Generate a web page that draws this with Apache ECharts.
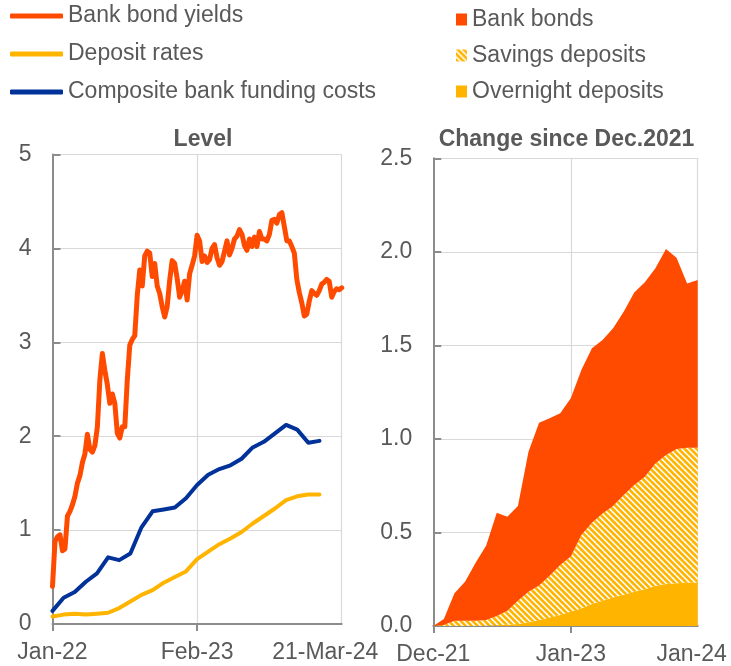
<!DOCTYPE html>
<html><head><meta charset="utf-8">
<script src="https://cdn.jsdelivr.net/npm/echarts@6/dist/echarts.min.js"></script>
<style>html,body{margin:0;padding:0;background:#fff}#c{width:731px;height:666px}</style>
</head><body><div id="c"></div>
<script>
// ---------- DATA ----------
const levelTickLabels = ['Jan-22', 'Feb-23', '21-Mar-24'];
const levelTickIndex = [0, 58, 116];

// weekly bank bond yields (%), from 3 Jan 2022 to 21 Mar 2024
const bankBondYields = [
  0.40, 0.88, 0.93, 0.95, 0.78, 0.80, 1.15, 1.20, 1.27, 1.36,
  1.50, 1.58, 1.72, 1.81, 2.02, 1.86, 1.83, 1.90, 2.10, 2.60,
  2.88, 2.70, 2.55, 2.35, 2.45, 2.35, 2.03, 1.98, 2.10, 2.10,
  2.60, 2.97, 3.03, 3.07, 3.50, 3.77, 3.60, 3.92, 3.97, 3.95,
  3.70, 3.84, 3.60, 3.52, 3.38, 3.27, 3.38, 3.66, 3.87, 3.84,
  3.68, 3.48, 3.55, 3.65, 3.45, 3.73, 3.82, 3.92, 4.14, 4.08,
  3.86, 3.92, 3.85, 3.88, 4.00, 4.04, 3.90, 3.82, 3.86, 3.97,
  4.08, 3.93, 4.00, 4.10, 4.13, 4.20, 4.15, 4.03, 3.98, 4.10,
  4.02, 4.12, 4.02, 4.18, 4.10, 4.10, 4.08, 4.15, 4.30, 4.31,
  4.27, 4.36, 4.38, 4.23, 4.08, 4.08, 4.02, 3.95, 3.67, 3.53,
  3.42, 3.28, 3.30, 3.44, 3.55, 3.52, 3.50, 3.55, 3.62, 3.64,
  3.67, 3.65, 3.48, 3.54, 3.57, 3.56, 3.58
];

// monthly series Jan-22 .. Jan-24 (axis runs to Mar-24)
const depositRates = [
  0.08, 0.10, 0.11, 0.10, 0.11, 0.12, 0.17, 0.24, 0.31, 0.36,
  0.44, 0.50, 0.56, 0.69, 0.77, 0.85, 0.91, 0.98, 1.07, 1.15,
  1.23, 1.32, 1.36, 1.38, 1.38
];
const compositeCosts = [
  0.14, 0.28, 0.34, 0.45, 0.54, 0.71, 0.68, 0.75, 1.03, 1.20,
  1.22, 1.24, 1.34, 1.48, 1.59, 1.65, 1.69, 1.76, 1.88, 1.94,
  2.03, 2.12, 2.07, 1.93, 1.95
];

const changeTickLabels = ['Dec-21', 'Jan-23', 'Jan-24'];
const changeTickIndex = [0, 13, 25];
// change since Dec-2021 (pp), monthly Dec-21 .. Jan-24
const overnightDeposits = [
  0, 0, 0, 0, 0, 0.002, 0.004, 0.007, 0.011, 0.020,
  0.032, 0.046, 0.059, 0.077, 0.094, 0.118, 0.135, 0.153, 0.167, 0.183,
  0.196, 0.214, 0.224, 0.228, 0.233, 0.233
];
const savingsDeposits = [
  0, 0.005, 0.028, 0.028, 0.028, 0.030, 0.049, 0.075, 0.124, 0.163,
  0.184, 0.223, 0.267, 0.294, 0.392, 0.434, 0.467, 0.488, 0.533, 0.571,
  0.602, 0.655, 0.690, 0.718, 0.720, 0.720
];
const bankBonds = [
  0, 0.032, 0.147, 0.209, 0.310, 0.398, 0.553, 0.502, 0.506, 0.749,
  0.871, 0.841, 0.811, 0.846, 0.882, 0.932, 0.927, 0.950, 0.980, 1.029,
  1.039, 1.043, 1.101, 1.023, 0.878, 0.896
];

// ---------- CATEGORY HELPERS ----------
const MON = ['Jan','Feb','Mar','Apr','May','Jun','Jul','Aug','Sep','Oct','Nov','Dec'];
function monthLabels(y, m, n) {
  const out = [];
  for (let i = 0; i < n; i++) {
    const mm = (m + i) % 12, yy = y + Math.floor((m + i) / 12);
    out.push(MON[mm] + '-' + String(yy).slice(2));
  }
  return out;
}
function weeklyDates(start, n) {
  const out = [], d0 = new Date(start + 'T00:00:00Z');
  for (let i = 0; i < n; i++) {
    const d = new Date(d0.getTime() + i * 7 * 86400000);
    out.push(d.toISOString().slice(0, 10));
  }
  return out;
}
const weeklyCategories = weeklyDates('2022-01-03', bankBondYields.length);
const levelMonths = monthLabels(2022, 0, 27);     // Jan-22 .. Mar-24
const changeMonths = monthLabels(2021, 11, 26);   // Dec-21 .. Jan-24

// ---------- STYLE ----------
const ORANGE = '#FF4B00', YELLOW = '#FFB400', BLUE = '#003299';
const TXT = '#595959', AXIS = '#8c8c8c', GRIDC = '#d9d9d9';
const FONT = "'Liberation Sans', Arial, sans-serif";

function stripePattern() {
  const s = 6, c = document.createElement('canvas');
  c.width = c.height = s;
  const ctx = c.getContext('2d');
  const img = ctx.createImageData(s, s);
  for (let y = 0; y < s; y++) for (let x = 0; x < s; x++) {
    let cov = 0;
    for (let sy = 0; sy < 4; sy++) for (let sx = 0; sx < 4; sx++) {
      const px = x + (sx + 0.5) / 4, py = y + (sy + 0.5) / 4;
      const d = (((px - py) % s) + s) % s;
      if (d < 3.6) cov++;
    }
    cov /= 16;
    const k = (y * s + x) * 4;
    img.data[k] = 255;
    img.data[k + 1] = Math.round(255 * (1 - cov) + 180 * cov);
    img.data[k + 2] = Math.round(255 * (1 - cov));
    img.data[k + 3] = 255;
  }
  ctx.putImageData(img, 0, 0);
  return { image: c, repeat: 'repeat' };
}
const STRIPES = stripePattern();

const chart = echarts.init(document.getElementById('c'), null, { renderer: 'canvas' });

const axisLabelBase = { fontSize: 23, color: TXT, fontFamily: FONT };

chart.setOption({
  animation: false,
  textStyle: { fontFamily: FONT },
  title: [
    { text: 'Level', left: 203, top: 128, padding: 0, textAlign: 'center',
      textStyle: { fontSize: 23, fontWeight: 'bold', color: TXT, fontFamily: FONT } },
    { text: 'Change since Dec.2021', left: 566.5, top: 128, padding: 0, textAlign: 'center',
      textStyle: { fontSize: 23, fontWeight: 'bold', color: TXT, fontFamily: FONT } }
  ],
  legend: [
    { orient: 'vertical', left: 10, top: 4.5, padding: 0, itemGap: 15,
      itemWidth: 53, itemHeight: 5, icon: 'roundRect',
      itemStyle: { borderWidth: 0 },
      textStyle: { fontSize: 23, color: TXT, fontFamily: FONT },
      data: ['Bank bond yields', 'Deposit rates', 'Composite bank funding costs'] },
    { orient: 'vertical', left: 456, top: 8, padding: 0, itemGap: 13,
      itemWidth: 11, itemHeight: 12, icon: 'rect',
      itemStyle: { borderWidth: 0 },
      textStyle: { fontSize: 23, color: TXT, fontFamily: FONT },
      data: [
        { name: 'Bank bonds', itemStyle: { color: ORANGE } },
        { name: 'Savings deposits', itemStyle: { color: STRIPES } },
        { name: 'Overnight deposits', itemStyle: { color: YELLOW } }
      ] }
  ],
  grid: [
    { left: 52.5, right: 389.3, top: 154.5, bottom: 42 },
    { left: 433.3, right: 33.3, top: 158.3, bottom: 40 }
  ],
  xAxis: [
    { type: 'category', gridIndex: 0, data: weeklyCategories, boundaryGap: false,
      axisLine: { show: true, lineStyle: { color: AXIS, width: 2 } },
      axisTick: { show: true, length: 7, lineStyle: { color: AXIS, width: 2 },
        interval: (i) => i === levelTickIndex[0] || i === levelTickIndex[1] },
      axisLabel: Object.assign({}, axisLabelBase, {
        margin: 17,
        interval: (i) => levelTickIndex.indexOf(i) >= 0,
        formatter: (v, i) => {
          const k = levelTickIndex.indexOf(i);
          if (k < 0) return '';
          return k === 2 ? '{s|' + levelTickLabels[k] + '}' : levelTickLabels[k];
        },
        rich: { s: Object.assign({}, axisLabelBase, { padding: [0, 33, 0, 0] }) }
      }),
      splitLine: { show: true, lineStyle: { color: GRIDC, width: 1.2 },
        interval: (i) => i === levelTickIndex[1] || i === levelTickIndex[2] } },
    { type: 'category', gridIndex: 0, data: levelMonths, boundaryGap: false, show: false },
    { type: 'category', gridIndex: 1, data: changeMonths, boundaryGap: false,
      axisLine: { show: true, lineStyle: { color: AXIS, width: 2 } },
      axisTick: { show: true, length: 7, lineStyle: { color: AXIS, width: 2 },
        interval: (i) => i === changeTickIndex[0] || i === changeTickIndex[1] },
      axisLabel: Object.assign({}, axisLabelBase, {
        margin: 17,
        interval: (i) => changeTickIndex.indexOf(i) >= 0,
        formatter: (v, i) => {
          const k = changeTickIndex.indexOf(i);
          if (k < 0) return '';
          return k === 2 ? '{s|' + changeTickLabels[k] + '}' : changeTickLabels[k];
        },
        rich: { s: Object.assign({}, axisLabelBase, { padding: [0, 12, 0, 0] }) }
      }),
      splitLine: { show: true, lineStyle: { color: GRIDC, width: 1.2 },
        interval: (i) => i === changeTickIndex[1] || i === changeTickIndex[2] } }
  ],
  yAxis: [
    { type: 'value', gridIndex: 0, min: 0, max: 5, interval: 1,
      axisLine: { show: true, lineStyle: { color: AXIS, width: 2 } },
      axisTick: { show: true, inside: true, length: 8, lineStyle: { color: AXIS, width: 2 } },
      axisLabel: Object.assign({}, axisLabelBase, { margin: 21 }),
      splitLine: { show: true, lineStyle: { color: GRIDC, width: 1.2 } } },
    { type: 'value', gridIndex: 1, min: 0, max: 2.5, interval: 0.5,
      axisLine: { show: true, lineStyle: { color: AXIS, width: 2 } },
      axisTick: { show: true, inside: true, length: 8, lineStyle: { color: AXIS, width: 2 } },
      axisLabel: Object.assign({}, axisLabelBase, { margin: 21, formatter: (v) => v.toFixed(1) }),
      splitLine: { show: true, lineStyle: { color: GRIDC, width: 1.2 } } }
  ],
  series: [
    { name: 'Deposit rates', type: 'line', xAxisIndex: 1, yAxisIndex: 0, data: depositRates,
      color: YELLOW, symbol: 'none', lineStyle: { width: 4, color: YELLOW, join: 'round', cap: 'round' }, z: 2 },
    { name: 'Composite bank funding costs', type: 'line', xAxisIndex: 1, yAxisIndex: 0, data: compositeCosts,
      color: BLUE, symbol: 'none', lineStyle: { width: 4, color: BLUE, join: 'round', cap: 'round' }, z: 3 },
    { name: 'Bank bond yields', type: 'line', xAxisIndex: 0, yAxisIndex: 0, data: bankBondYields,
      color: ORANGE, symbol: 'none', lineStyle: { width: 5, color: ORANGE, join: 'round', cap: 'round' }, z: 4 },
    { name: 'Overnight deposits', type: 'line', xAxisIndex: 2, yAxisIndex: 1, stack: 'chg',
      data: overnightDeposits, color: YELLOW, symbol: 'none',
      lineStyle: { width: 0, opacity: 0 }, areaStyle: { color: YELLOW, opacity: 1 } },
    { name: 'Savings deposits', type: 'line', xAxisIndex: 2, yAxisIndex: 1, stack: 'chg',
      data: savingsDeposits, color: YELLOW, symbol: 'none',
      lineStyle: { width: 0, opacity: 0 }, areaStyle: { color: STRIPES, opacity: 1 } },
    { name: 'Bank bonds', type: 'line', xAxisIndex: 2, yAxisIndex: 1, stack: 'chg',
      data: bankBonds, color: ORANGE, symbol: 'none',
      lineStyle: { width: 0, opacity: 0 }, areaStyle: { color: ORANGE, opacity: 1 } }
  ]
});
</script>
</body></html>
